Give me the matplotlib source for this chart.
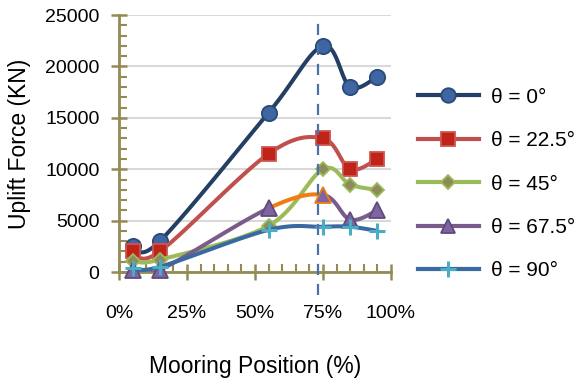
import numpy as np
import matplotlib
matplotlib.use("Agg")
import matplotlib.pyplot as plt
from matplotlib.lines import Line2D

plt.rcParams['font.family'] = ['Liberation Sans', 'DejaVu Sans']

# Mooring positions (% of length) and uplift forces (kN) per heading angle
positions = [5, 15, 55, 75, 85, 95]
labels = ['θ = 0°', 'θ = 22.5°', 'θ = 45°', 'θ = 67.5°', 'θ = 90°']
force_0 = [2500, 3000, 15500, 22000, 18000, 19000]
force_22_5 = [2000, 2000, 11500, 13000, 10000, 11000]
force_45 = [1100, 1200, 4500, 10000, 8500, 8000]
force_67_5 = [200, 200, 6200, 7500, 5100, 6000]
force_90 = [400, 500, 4100, 4400, 4400, 4000]
series = [force_0, force_22_5, force_45, force_67_5, force_90]

x_ticks = [0, 25, 50, 75, 100]
x_tick_labels = ['0%', '25%', '50%', '75%', '100%']
y_ticks = [0, 5000, 10000, 15000, 20000, 25000]
ref_position = 73  # marked mooring position

styles = [
    dict(line='#243f63', marker='o', face='#3d66a3', edge='#2a4a78', ms=11),
    dict(line='#c0504d', marker='s', face='#bf2319', edge='#cc5550', ms=10.5),
    dict(line='#9bbb59', marker='D', face='#8f8a5c', edge='#9bbb59', ms=7.5),
    dict(line='#7a5c8a', marker='^', face='#8064a2', edge='#5f4a7c', ms=11),
    dict(line='#3a68a0', marker='+', face='#4bacc6', edge='#4bacc6', ms=12),
]
highlight = '#f07c12'

XMAX, YMAX = 100.0, 25000.0
ASPECT = 257.0 / 272.0  # plot height / width in pixels


def smooth(xs, ys, n=40):
    """Bezier smoothing through points (computed in screen-proportional space)."""
    px = np.asarray(xs, float) / XMAX
    py = np.asarray(ys, float) / YMAX * ASPECT
    pts = np.column_stack([px, py])
    segs = []
    for i in range(len(pts) - 1):
        p0 = pts[i - 1] if i > 0 else pts[i]
        p1, p2 = pts[i], pts[i + 1]
        p3 = pts[i + 2] if i + 2 < len(pts) else pts[i + 1]
        c1 = p1 + (p2 - p0) / 6.0
        c2 = p2 - (p3 - p1) / 6.0
        t = np.linspace(0, 1, n)[:, None]
        b = ((1 - t) ** 3) * p1 + 3 * ((1 - t) ** 2) * t * c1 + 3 * (1 - t) * t ** 2 * c2 + t ** 3 * p2
        segs.append(np.column_stack([b[:, 0] * XMAX, b[:, 1] / ASPECT * YMAX]))
    return segs


fig = plt.figure(figsize=(5.79, 3.79), dpi=100)
ax = fig.add_axes([0.2055, 0.2823, 0.4698, 0.678])

spine_col = '#948a54'
ax.set_xlim(0, XMAX)
ax.set_ylim(0, YMAX)
ax.set_xticks(x_ticks)
ax.set_xticklabels(x_tick_labels)
ax.set_yticks(y_ticks)
ax.set_xticks(np.arange(0, 101, 5), minor=True)
ax.set_yticks(np.arange(0, 25001, 1000), minor=True)
ax.tick_params(axis='both', which='major', direction='inout', length=12, width=1.8,
               color=spine_col, labelsize=14)
ax.tick_params(axis='both', which='minor', direction='in', length=6, width=1.5, color=spine_col)
ax.tick_params(axis='x', which='major', pad=17.5)
ax.tick_params(axis='y', which='major', pad=8)
for side in ['top', 'right']:
    ax.spines[side].set_visible(False)
for side in ['left', 'bottom']:
    ax.spines[side].set_color(spine_col)
    ax.spines[side].set_linewidth(2)
ax.set_axisbelow(True)
ax.grid(axis='y', color='#d9d9d9', linewidth=1.5)

ax.set_ylabel('Uplift Force (KN)', fontsize=16.5, labelpad=10)
ax.set_xlabel('Mooring Position (%)', fontsize=16.5, labelpad=24)

for k, (vals, st) in enumerate(zip(series, styles)):
    segs = smooth(positions, vals)
    for i, seg in enumerate(segs):
        col = highlight if (k == 3 and i == 2) else st['line']
        ax.plot(seg[:, 0], seg[:, 1], color=col, lw=2.9, solid_capstyle='round', zorder=2 + k)
    edges = [st['edge']] * len(vals)
    if k == 3:
        edges[3] = highlight
    mew = 2.2 if st['marker'] == '+' else 1.3
    for xv, yv, ec in zip(positions, vals, edges):
        ax.plot([xv], [yv], linestyle='none', marker=st['marker'], markersize=st['ms'],
                markerfacecolor=st['face'], markeredgecolor=ec, markeredgewidth=mew,
                zorder=2.5 + k, clip_on=False)

ax.plot([ref_position, ref_position], [-2200, 24300], color='#4a72a8', lw=1.6,
        dashes=(5, 4), clip_on=False, zorder=10)

handles = [Line2D([0], [0], color=st['line'], lw=3, marker=st['marker'], markersize=st['ms'] * 0.95,
                  markerfacecolor=st['face'], markeredgecolor=st['edge'],
                  markeredgewidth=2.2 if st['marker'] == '+' else 1.3)
           for st in styles]
fig.legend(handles, labels, loc='center left', bbox_to_anchor=(0.69, 0.5145), frameon=False,
           fontsize=15, handlelength=2.9, handletextpad=0.58, labelspacing=1.17)

fig.savefig('out.png', dpi=100)
